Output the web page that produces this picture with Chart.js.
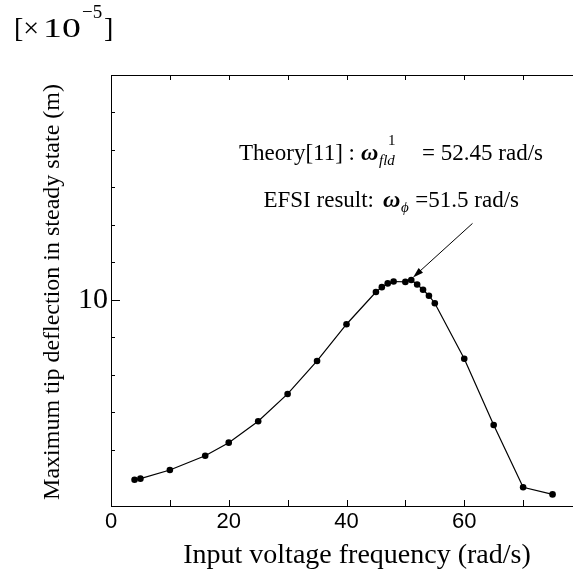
<!DOCTYPE html>
<html>
<head>
<meta charset="utf-8">
<script src="https://cdn.jsdelivr.net/npm/chart.js@4.4.1/dist/chart.umd.min.js"></script>
<style>
  html, body { margin: 0; padding: 0; background: #fff; overflow: hidden; }
  #wrap { position: relative; width: 573px; height: 571px; overflow: hidden; }
  #wrap canvas { display: block; }
</style>
</head>
<body>
<div id="wrap"><canvas id="chart" width="600" height="571"></canvas></div>
<script>
// input voltage frequency (rad/s) and max tip deflection (x1e-5 m)
const frequency = [4, 5, 10, 16, 20, 25, 30, 35, 40, 45, 46, 47, 48, 50, 51, 52, 53, 54, 55, 60, 65, 70, 75];
const deflection = [5.20, 5.23, 5.46, 5.84, 6.19, 6.76, 7.49, 8.37, 9.35, 10.21, 10.34, 10.44, 10.49, 10.48, 10.53, 10.41, 10.27, 10.11, 9.91, 8.43, 6.66, 5.00, 4.81];
const xTickLabels = ['0', '20', '40', '60'];
const yTickLabels = ['10'];
// arrow pointing at the EFSI peak, in data units: [x, y] from -> to
const arrowFrom = [61.4, 12.04];
const arrowTo = [51.3, 10.6];

const serif = "'Liberation Serif', 'Times New Roman', serif";
const sans = "'Liberation Sans', Arial, sans-serif";

const points = frequency.map((f, i) => ({ x: f, y: deflection[i] }));

// frame, inward ticks, titles and annotations
const decorations = {
    id: 'decorations',
    afterDraw(chart) {
        const ctx = chart.ctx;
        const area = chart.chartArea;
        const xs = chart.scales.x;
        const ys = chart.scales.y;
        ctx.save();
        ctx.strokeStyle = '#000';
        ctx.fillStyle = '#000';
        ctx.lineWidth = 1;

        // box
        ctx.strokeRect(area.left + 0.5, area.top + 0.5, area.right - area.left, area.bottom - area.top);

        // x ticks, every 10
        ctx.beginPath();
        xs.ticks.forEach(t => {
            if (t.value <= xs.min || t.value >= xs.max) return;
            const px = Math.round(xs.getPixelForValue(t.value)) + 0.5;
            ctx.moveTo(px, area.bottom);
            ctx.lineTo(px, area.bottom - 6);
            ctx.moveTo(px, area.top);
            ctx.lineTo(px, area.top + 5);
        });
        // y ticks, every 1, longer at 10
        ys.ticks.forEach(t => {
            if (!Number.isInteger(t.value) || t.value <= ys.min || t.value >= ys.max) return;
            const py = Math.round(ys.getPixelForValue(t.value)) + 0.5;
            const len = t.value === 10 ? 9 : 4;
            ctx.moveTo(area.left, py);
            ctx.lineTo(area.left + len, py);
            ctx.moveTo(area.right, py);
            ctx.lineTo(area.right - len, py);
        });
        ctx.stroke();

        // arrow
        const x0 = xs.getPixelForValue(arrowFrom[0]);
        const y0 = ys.getPixelForValue(arrowFrom[1]);
        const x1 = xs.getPixelForValue(arrowTo[0]);
        const y1 = ys.getPixelForValue(arrowTo[1]);
        const ang = Math.atan2(y1 - y0, x1 - x0);
        const head = 11;
        ctx.beginPath();
        ctx.moveTo(x0, y0);
        ctx.lineTo(x1 - Math.cos(ang) * 6, y1 - Math.sin(ang) * 6);
        ctx.stroke();
        ctx.beginPath();
        ctx.moveTo(x1, y1);
        ctx.lineTo(x1 - head * Math.cos(ang - 0.3), y1 - head * Math.sin(ang - 0.3));
        ctx.lineTo(x1 - head * Math.cos(ang + 0.3), y1 - head * Math.sin(ang + 0.3));
        ctx.closePath();
        ctx.fill();

        // annotation text
        ctx.textBaseline = 'alphabetic';
        ctx.font = '23px ' + serif;
        ctx.textAlign = 'right';
        ctx.fillText('Theory[11] :', 355, 160);
        ctx.fillText('EFSI result:', 374, 207);
        ctx.fillText('= 52.45 rad/s', 543, 160);
        ctx.fillText('=51.5 rad/s', 519, 207);
        ctx.textAlign = 'left';
        ctx.font = 'italic bold 24px ' + serif;
        ctx.fillText('\u03C9', 361, 160);
        ctx.fillText('\u03C9', 383, 207);
        ctx.font = 'italic 15px ' + serif;
        ctx.fillText('fld', 379, 165);
        ctx.fillText('\u03D5', 401, 212);
        ctx.font = '15px ' + serif;
        ctx.fillText('1', 388, 145);

        // unit label
        ctx.font = '28px ' + serif;
        ctx.fillText('[\u00D7', 14, 37);
        ctx.fillText(']', 104, 37);
        ctx.save();
        ctx.translate(43, 37);
        ctx.scale(1.35, 1);
        ctx.fillText('10', 0, 0);
        ctx.restore();
        ctx.font = '19px ' + serif;
        ctx.fillText('\u22125', 82, 18);

        // axis titles
        ctx.textAlign = 'center';
        ctx.font = '28px ' + serif;
        ctx.fillText('Input voltage frequency (rad/s)', 357, 563);
        ctx.font = '24px ' + serif;
        ctx.save();
        ctx.translate(59, 292);
        ctx.rotate(-Math.PI / 2);
        ctx.fillText('Maximum tip deflection in steady state (m)', 0, 0);
        ctx.restore();

        ctx.restore();
    }
};

new Chart(document.getElementById('chart'), {
    type: 'scatter',
    data: {
        datasets: [{
            data: points,
            showLine: true,
            borderColor: '#000',
            backgroundColor: '#000',
            borderWidth: 1.2,
            pointRadius: 3.3,
            pointHoverRadius: 3.3,
            pointBorderWidth: 0
        }]
    },
    options: {
        responsive: false,
        animation: false,
        layout: { padding: { left: 0, top: 75, right: 18, bottom: 0 } },
        plugins: {
            legend: { display: false },
            tooltip: { enabled: false }
        },
        scales: {
            x: {
                type: 'linear',
                min: 0,
                max: 80,
                grid: { drawOnChartArea: false, drawTicks: false },
                border: { display: false },
                ticks: {
                    stepSize: 10,
                    autoSkip: false,
                    maxRotation: 0,
                    padding: 3,
                    color: '#000',
                    font: { family: sans, size: 22 },
                    callback: v => xTickLabels.includes(String(v)) ? String(v) : ''
                },
                afterFit: s => { s.height = 65; }
            },
            y: {
                type: 'linear',
                min: 4.5,
                max: 16,
                grid: { drawOnChartArea: false, drawTicks: false },
                border: { display: false },
                ticks: {
                    stepSize: 1,
                    autoSkip: false,
                    padding: 3,
                    color: '#000',
                    font: { family: serif, size: 30 },
                    callback: v => yTickLabels.includes(String(v)) ? String(v) : ''
                },
                afterFit: s => { s.width = 111; }
            }
        }
    },
    plugins: [decorations]
});
</script>
</body>
</html>
